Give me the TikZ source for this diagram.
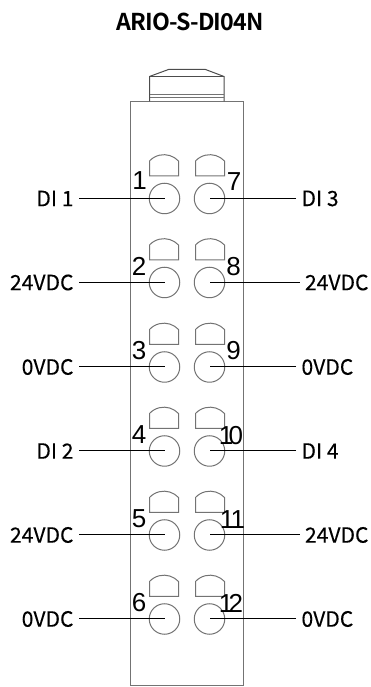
\documentclass[tikz,border=0pt]{standalone}
\usepackage{fontspec}
\setmainfont[FakeBold=0.2]{Noto Sans CJK SC}
\newfontfamily\titlefont[LetterSpace=-3.5]{Noto Sans CJK SC Bold}
\newfontfamily\pinfont{Liberation Sans}
\begin{document}
\begin{tikzpicture}
\tikzstyle{part}   = [draw=black!55, line width=0.02cm]
\tikzstyle{plug}   = [draw=black!70, line width=0.02cm]
\tikzstyle{pin}    = [circle, draw=black!55, line width=0.02cm, minimum size=0.61cm, inner sep=0pt]
\tikzstyle{wire}   = [draw=black, line width=0.02cm]
\tikzstyle{lbl}    = [rectangle, inner xsep=0.11cm, inner ysep=0pt, outer sep=0pt, font=\fontsize{12}{12}\selectfont]
\tikzstyle{pinno}  = [rectangle, inner sep=0pt, font=\pinfont\fontsize{14.8}{14.8}\selectfont]
\useasboundingbox (0,0) rectangle (7.42,13.74);
\node[font=\titlefont\fontsize{13.2}{13.2}\selectfont] at (3.80, 13.31) (title) {ARIO-S-DI04N};
% housing
\draw[part] (2.61, 0.02) rectangle (4.86, 11.71);
\draw[plug] (2.99, 11.71) -- (2.99, 12.21) -- (3.37, 12.35) -- (4.11, 12.35) -- (4.48, 12.21) -- (4.48, 11.71);
\draw[plug] (2.99, 12.21) -- (4.48, 12.21);
\draw[part] (2.99, 11.85) -- (4.48, 11.85);
\draw[part] (2.99, 11.79) -- (4.48, 11.79);
% hoods
\draw[part] (2.99, 10.52) -- (2.99, 10.22) -- (3.57, 10.22) -- (3.57, 10.52) arc[start angle=43, end angle=137, radius=0.397];
\draw[part] (3.91, 10.52) -- (3.91, 10.22) -- (4.49, 10.22) -- (4.49, 10.52) arc[start angle=43, end angle=137, radius=0.397];
\draw[part] (2.99, 8.84) -- (2.99, 8.54) -- (3.57, 8.54) -- (3.57, 8.84) arc[start angle=43, end angle=137, radius=0.397];
\draw[part] (3.91, 8.84) -- (3.91, 8.54) -- (4.49, 8.54) -- (4.49, 8.84) arc[start angle=43, end angle=137, radius=0.397];
\draw[part] (2.99, 7.15) -- (2.99, 6.85) -- (3.57, 6.85) -- (3.57, 7.15) arc[start angle=43, end angle=137, radius=0.397];
\draw[part] (3.91, 7.15) -- (3.91, 6.85) -- (4.49, 6.85) -- (4.49, 7.15) arc[start angle=43, end angle=137, radius=0.397];
\draw[part] (2.99, 5.47) -- (2.99, 5.17) -- (3.57, 5.17) -- (3.57, 5.47) arc[start angle=43, end angle=137, radius=0.397];
\draw[part] (3.91, 5.47) -- (3.91, 5.17) -- (4.49, 5.17) -- (4.49, 5.47) arc[start angle=43, end angle=137, radius=0.397];
\draw[part] (2.99, 3.79) -- (2.99, 3.49) -- (3.57, 3.49) -- (3.57, 3.79) arc[start angle=43, end angle=137, radius=0.397];
\draw[part] (3.91, 3.79) -- (3.91, 3.49) -- (4.49, 3.49) -- (4.49, 3.79) arc[start angle=43, end angle=137, radius=0.397];
\draw[part] (2.99, 2.11) -- (2.99, 1.81) -- (3.57, 1.81) -- (3.57, 2.11) arc[start angle=43, end angle=137, radius=0.397];
\draw[part] (3.91, 2.11) -- (3.91, 1.81) -- (4.49, 1.81) -- (4.49, 2.11) arc[start angle=43, end angle=137, radius=0.397];
% pins
\node[pin] at (3.29, 9.77) (pin_1) {};
\node[pin] at (3.29, 8.09) (pin_2) {};
\node[pin] at (3.29, 6.40) (pin_3) {};
\node[pin] at (3.29, 4.72) (pin_4) {};
\node[pin] at (3.29, 3.04) (pin_5) {};
\node[pin] at (3.29, 1.36) (pin_6) {};
\node[pin] at (4.19, 9.77) (pin_7) {};
\node[pin] at (4.19, 8.09) (pin_8) {};
\node[pin] at (4.19, 6.40) (pin_9) {};
\node[pin] at (4.19, 4.72) (pin_10) {};
\node[pin] at (4.19, 3.04) (pin_11) {};
\node[pin] at (4.19, 1.36) (pin_12) {};
% pin numbers
\node[pinno] at (2.79, 10.13) (no_1) {1};
\node[pinno] at (2.78, 8.41) (no_2) {2};
\node[pinno] at (2.78, 6.73) (no_3) {3};
\node[pinno] at (2.78, 5.05) (no_4) {4};
\node[pinno] at (2.78, 3.36) (no_5) {5};
\node[pinno] at (2.78, 1.69) (no_6) {6};
\node[pinno] at (4.68, 10.10) (no_7) {7};
\node[pinno] at (4.67, 8.40) (no_8) {8};
\node[pinno] at (4.67, 6.72) (no_9) {9};
\node[pinno] at (4.62, 5.03) (no_10) {1\kern-0.18em 0};
\node[pinno] at (4.65, 3.35) (no_11) {1\kern-0.15em 1};
\node[pinno] at (4.62, 1.68) (no_12) {1\kern-0.18em 2};
% labels
\node[lbl, anchor=east] at (1.58, 9.77) (lbl_1) {DI 1};
\node[lbl, anchor=east] at (1.58, 8.09) (lbl_2) {24VDC};
\node[lbl, anchor=east] at (1.58, 6.40) (lbl_3) {0VDC};
\node[lbl, anchor=east] at (1.58, 4.72) (lbl_4) {DI 2};
\node[lbl, anchor=east] at (1.58, 3.04) (lbl_5) {24VDC};
\node[lbl, anchor=east] at (1.58, 1.36) (lbl_6) {0VDC};
\node[lbl, anchor=west] at (5.92, 9.77) (lbl_7) {DI 3};
\node[lbl, anchor=west] at (5.99, 8.09) (lbl_8) {24VDC};
\node[lbl, anchor=west] at (5.92, 6.40) (lbl_9) {0VDC};
\node[lbl, anchor=west] at (5.92, 4.72) (lbl_10) {DI 4};
\node[lbl, anchor=west] at (5.99, 3.04) (lbl_11) {24VDC};
\node[lbl, anchor=west] at (5.92, 1.36) (lbl_12) {0VDC};
% wires
\draw[wire] (lbl_1.east) -- (pin_1.center);
\draw[wire] (lbl_2.east) -- (pin_2.center);
\draw[wire] (lbl_3.east) -- (pin_3.center);
\draw[wire] (lbl_4.east) -- (pin_4.center);
\draw[wire] (lbl_5.east) -- (pin_5.center);
\draw[wire] (lbl_6.east) -- (pin_6.center);
\draw[wire] (lbl_7.west) -- (pin_7.center);
\draw[wire] (lbl_8.west) -- (pin_8.center);
\draw[wire] (lbl_9.west) -- (pin_9.center);
\draw[wire] (lbl_10.west) -- (pin_10.center);
\draw[wire] (lbl_11.west) -- (pin_11.center);
\draw[wire] (lbl_12.west) -- (pin_12.center);
\end{tikzpicture}
\end{document}
